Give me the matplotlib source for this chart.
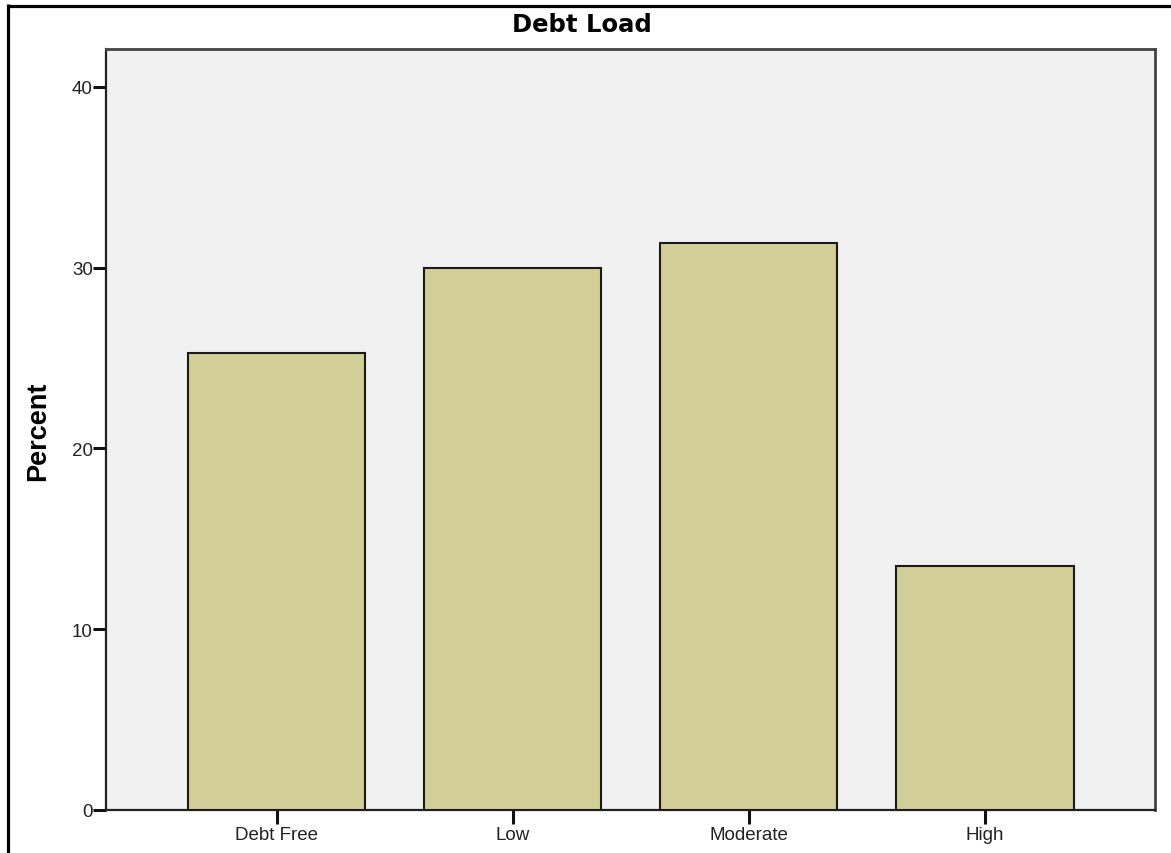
import matplotlib
matplotlib.use("Agg")
import matplotlib.pyplot as plt
from matplotlib.lines import Line2D

categories = ["Debt Free", "Low", "Moderate", "High"]
percent = [25.3, 30.0, 31.35, 13.5]
yticks = [0, 10, 20, 30, 40]

W, H = 1171, 854
fig = plt.figure(figsize=(W / 100, H / 100), dpi=100)
fig.patch.set_facecolor("white")

ax = fig.add_axes([106 / W, 1 - 811 / H, (1155 - 106) / W, (811 - 50) / H])
ax.set_facecolor("#f1f1f1")

x = list(range(len(categories)))
ax.bar(x, percent, width=0.75, color="#d2ce98", edgecolor="#1a1a1a", linewidth=1.5, zorder=3)

ax.set_xlim(-0.723, 3.72)
ax.set_ylim(0, 42.1)
ax.set_xticks(x)
ax.set_xticklabels(categories, family="Liberation Sans", fontsize=13.5, color="#222222")
ax.set_yticks(yticks)
ax.set_yticklabels([str(v) for v in yticks], family="Liberation Sans", fontsize=13.5, color="#222222")
ax.tick_params(axis="y", direction="out", length=9.5, width=2.2, pad=0, color="#111111")
ax.tick_params(axis="x", direction="out", length=10.2, width=2.2, pad=1, color="#111111")

for side in ["left", "bottom"]:
    ax.spines[side].set_linewidth(1.6)
    ax.spines[side].set_color("#222222")
for side in ["top", "right"]:
    ax.spines[side].set_linewidth(2.0)
    ax.spines[side].set_color("#444444")

fig.text(0.497, 1 - 31.5 / H, "Debt Load", ha="center", va="baseline",
         family="DejaVu Sans", fontweight="bold", fontsize=17.5, color="black")
fig.text(38.5 / W, 1 - 431 / H, "Percent", ha="center", va="center", rotation=90,
         family="Liberation Sans", fontweight="bold", fontsize=19.5, color="black")

# outer frame (top and left edges)
fig.add_artist(Line2D([7.5 / W, 1.0], [1 - 6.5 / H, 1 - 6.5 / H], transform=fig.transFigure,
                      color="black", linewidth=2.3, solid_capstyle="butt"))
fig.add_artist(Line2D([7.5 / W, 7.5 / W], [1 - 5.3 / H, 0.0], transform=fig.transFigure,
                      color="black", linewidth=2.3, solid_capstyle="butt"))

fig.savefig("out.png", dpi=100)
